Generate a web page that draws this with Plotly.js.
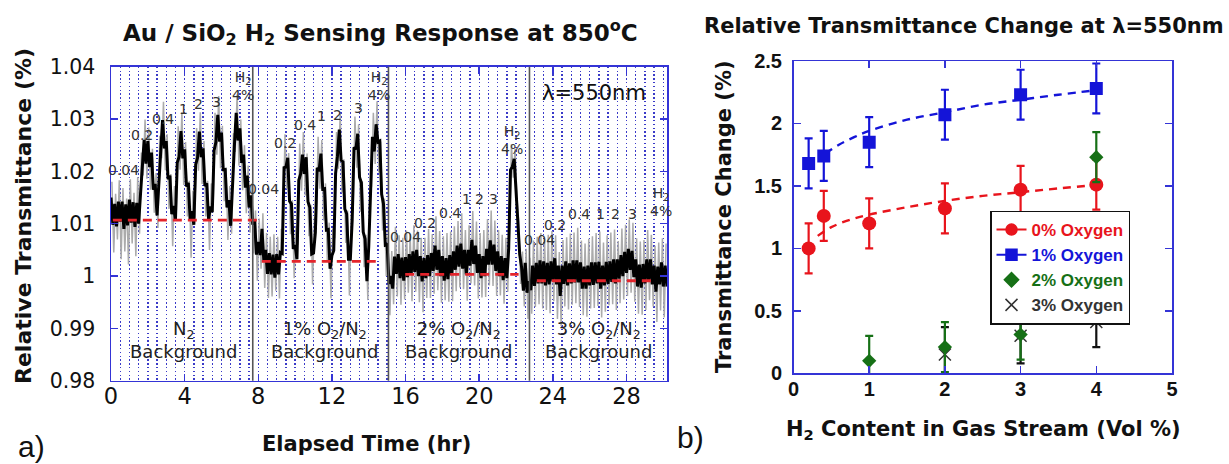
<!DOCTYPE html>
<html><head><meta charset="utf-8">
<script src="https://cdn.plot.ly/plotly-3.0.1.min.js"></script>
<style>html,body{margin:0;padding:0;background:#fff}#chart{width:1229px;height:464px}</style>
</head><body><div id="chart"></div>
<script>
// ---------- panel a) : time series (sampled every 0.1 hr) ----------
const sampleStep = 0.1;
const smoothedSignal = [
1.0150,1.0098,1.0138,1.0095,1.0142,1.0104,1.0142,1.0090,1.0137,1.0097,
1.0146,1.0102,1.0141,1.0094,1.0140,1.0100,1.0155,1.0205,1.0260,1.0215,
1.0258,1.0208,1.0236,1.0165,1.0176,1.0116,1.0183,1.0233,1.0298,1.0244,
1.0258,1.0185,1.0192,1.0118,1.0134,1.0106,1.0217,1.0228,1.0277,1.0225,
1.0242,1.0171,1.0178,1.0106,1.0124,1.0098,1.0213,1.0226,1.0276,1.0227,
1.0244,1.0172,1.0177,1.0108,1.0133,1.0122,1.0240,1.0256,1.0308,1.0257,
1.0274,1.0201,1.0206,1.0131,1.0145,1.0096,1.0180,1.0247,1.0312,1.0259,
1.0282,1.0216,1.0232,1.0169,1.0192,1.0131,1.0154,
1.0098,1.0107,1.0041,1.0065,1.0040,1.0090,1.0029,1.0050,1.0004,1.0044,
1.0003,1.0041,0.9997,1.0042,1.0003,1.0045,1.0043,1.0207,1.0208,1.0226,
1.0143,1.0138,1.0052,1.0059,1.0032,1.0183,1.0195,1.0232,1.0195,1.0227,
1.0142,1.0131,1.0042,1.0044,1.0083,1.0207,1.0200,1.0234,1.0166,1.0167,
1.0088,1.0089,1.0014,1.0039,1.0049,1.0196,1.0229,1.0280,1.0221,1.0218,
1.0128,1.0119,1.0032,1.0032,1.0106,1.0246,1.0242,1.0272,1.0189,1.0178,
1.0084,1.0071,0.9990,1.0056,1.0164,1.0266,1.0238,1.0290,1.0256,1.0258,
1.0156,1.0138,1.0059,1.0060,
0.9985,1.0000,0.9976,1.0037,1.0004,1.0042,0.9996,1.0035,0.9991,1.0036,
0.9998,1.0042,1.0002,1.0047,1.0008,1.0050,1.0000,1.0038,0.9990,1.0034,
0.9996,1.0040,1.0000,1.0044,1.0010,1.0058,1.0012,1.0050,1.0000,1.0038,
0.9991,1.0034,0.9994,1.0040,1.0002,1.0047,1.0012,1.0058,1.0018,1.0062,
1.0014,1.0050,1.0003,1.0050,1.0020,1.0069,1.0023,1.0058,1.0006,1.0042,
0.9996,1.0038,1.0000,1.0052,1.0022,1.0068,1.0022,1.0060,1.0010,1.0047,
1.0000,1.0038,0.9992,1.0034,0.9996,1.0052,1.0203,1.0209,1.0224,1.0168,
1.0112,1.0041,1.0017,0.9972,1.0025,0.9968,0.9990,
0.9973,1.0020,0.9981,1.0025,0.9986,1.0030,0.9986,1.0028,0.9982,1.0025,
0.9984,1.0028,0.9990,1.0034,0.9984,1.0020,0.9962,1.0020,0.9985,1.0028,
0.9982,1.0024,0.9986,1.0030,0.9988,1.0030,0.9988,1.0026,0.9976,1.0018,
0.9976,1.0020,0.9982,1.0026,0.9983,1.0026,0.9986,1.0027,0.9976,1.0020,
0.9982,1.0027,0.9985,1.0028,0.9989,1.0032,0.9986,1.0032,0.9995,1.0040,
1.0000,1.0046,1.0006,1.0052,1.0012,1.0048,0.9998,1.0032,0.9980,1.0022,
0.9978,1.0023,0.9986,1.0032,0.9992,1.0032,0.9984,1.0020,0.9970,1.0018,
0.9984,1.0026,0.9980,1.0020,0.9980
];
const rawSignal = [
1.0180,1.0045,1.0157,1.0070,1.0183,1.0032,1.0168,1.0047,1.0148,1.0022,
1.0185,1.0062,1.0159,1.0038,1.0189,1.0081,1.0236,1.0192,1.0299,1.0186,
1.0284,1.0165,1.0243,1.0121,1.0197,1.0092,1.0268,1.0225,1.0333,1.0202,
1.0271,1.0128,1.0195,1.0057,1.0172,1.0126,1.0286,1.0203,1.0313,1.0174,
1.0256,1.0114,1.0182,1.0035,1.0163,1.0111,1.0283,1.0201,1.0313,1.0176,
1.0258,1.0114,1.0182,1.0050,1.0177,1.0135,1.0312,1.0232,1.0344,1.0206,
1.0287,1.0143,1.0208,1.0069,1.0172,1.0081,1.0273,1.0237,1.0347,1.0211,
1.0299,1.0164,1.0250,1.0120,1.0211,1.0083,1.0177,
1.0043,1.0125,0.9991,1.0110,1.0014,1.0120,0.9977,1.0082,0.9958,1.0075,
0.9961,1.0080,0.9972,1.0075,0.9957,1.0090,1.0086,1.0271,1.0167,1.0235,
1.0080,1.0145,0.9996,1.0096,1.0060,1.0253,1.0163,1.0275,1.0154,1.0234,
1.0076,1.0136,0.9984,1.0112,1.0095,1.0266,1.0167,1.0260,1.0106,1.0177,
1.0028,1.0102,0.9957,1.0091,1.0072,1.0275,1.0205,1.0311,1.0159,1.0223,
1.0063,1.0125,0.9963,1.0116,1.0123,1.0305,1.0207,1.0290,1.0123,1.0181,
1.0017,1.0079,0.9954,1.0158,1.0171,1.0312,1.0214,1.0334,1.0198,1.0257,
1.0087,1.0148,1.0000,1.0075,
0.9925,1.0048,0.9946,1.0094,0.9961,1.0078,0.9945,1.0073,0.9955,1.0087,
0.9968,1.0080,0.9952,1.0097,0.9970,1.0087,0.9950,1.0073,0.9931,1.0073,
0.9958,1.0090,0.9958,1.0080,0.9966,1.0114,0.9973,1.0086,0.9949,1.0076,
0.9954,1.0082,0.9951,1.0085,0.9952,1.0095,0.9971,1.0105,0.9978,1.0120,
0.9975,1.0088,0.9953,1.0097,0.9986,1.0124,0.9982,1.0104,0.9957,1.0082,
0.9959,1.0088,0.9960,1.0109,0.9982,1.0125,0.9981,1.0106,0.9962,1.0088,
0.9963,1.0079,0.9947,1.0073,0.9970,1.0085,1.0252,1.0188,1.0243,1.0148,
1.0105,0.9985,1.0047,0.9942,1.0052,0.9918,1.0035,
0.9928,1.0068,0.9941,1.0075,0.9946,1.0082,0.9938,1.0071,0.9935,1.0079,
0.9929,1.0086,0.9952,1.0078,0.9918,1.0046,0.9904,1.0069,0.9942,1.0074,
0.9936,1.0081,0.9945,1.0083,0.9948,1.0092,0.9941,1.0068,0.9925,1.0062,
0.9922,1.0071,0.9938,1.0076,0.9939,1.0082,0.9943,1.0085,0.9921,1.0064,
0.9932,1.0078,0.9944,1.0083,0.9946,1.0089,0.9935,1.0067,0.9948,1.0091,
0.9955,1.0098,0.9962,1.0108,0.9968,1.0102,0.9951,1.0072,0.9928,1.0066,
0.9926,1.0069,0.9935,1.0088,0.9954,1.0079,0.9942,1.0058,0.9912,1.0064,
0.9934,1.0072,0.9921,1.0062
];
const switchTimes = [7.7, 15.07, 22.73];
const baseStart = [0.1, 8.19, 15.98, 23.13];
const baseEnd   = [8.1, 14.53, 22.14, 29.47];
const baseLevel = [1.0107, 1.0028, 1.0003, 0.9991];

const pulseText = ['0.04','0.2','0.4','1','2','3','H<sub>2</sub><br>4%',
                   '0.04','0.2','0.4','1','2','3','H<sub>2</sub><br>4%',
                   '0.04','0.2','0.4','1','2','3','H<sub>2</sub><br>4%',
                   '0.04','0.2','0.4','1','2','3','H<sub>2</sub><br>4%'];
const pulseT = [0.67,1.7,2.84,3.93,4.75,5.71,7.19,
                8.28,9.46,10.54,11.45,12.3,13.44,14.53,
                16.01,17.03,18.43,19.33,20.02,20.78,21.77,
                23.3,24.1,25.4,26.58,27.4,28.33,29.89];
const pulseV = [1.0202,1.0269,1.0301,1.0320,1.0329,1.0332,1.0363,
                1.0167,1.0254,1.0289,1.0306,1.0308,1.0321,1.0364,
                1.0075,1.0101,1.0121,1.0148,1.0148,1.0148,1.0260,
                1.0068,1.0098,1.0118,1.0118,1.0118,1.0118,1.0141];
const bgText = ['N<sub>2</sub><br>Background','1% O<sub>2</sub>/N<sub>2</sub><br>Background',
                '2% O<sub>2</sub>/N<sub>2</sub><br>Background','3% O<sub>2</sub>/N<sub>2</sub><br>Background'];
const bgT = [3.93, 11.58, 18.87, 26.48];
const bgV = 0.9877;
const yTickVals = [0.98,0.99,1,1.01,1.02,1.03,1.04];
const yTickText = ['0.98','0.99','1','1.01','1.02','1.03','1.04'];
const xTickVals = [0,4,8,12,16,20,24,28];

// ---------- panel b) : transmittance change ----------
const h2Content = [0.2, 0.4, 1, 2, 3, 4];
const ox0 = [1.00, 1.26, 1.20, 1.32, 1.47, 1.51];
const ox0Err = [0.20, 0.20, 0.20, 0.20, 0.19, 0.20];
const ox1 = [1.68, 1.74, 1.85, 2.07, 2.23, 2.28];
const ox1Err = [0.20, 0.20, 0.20, 0.20, 0.20, 0.20];
const ox2X = [1, 2, 3, 4];
const ox2 = [0.10, 0.21, 0.31, 1.73];
const ox2Err = [0.20, 0.20, 0.20, 0.20];
const ox3X = [2, 3, 4];
const ox3 = [0.15, 0.30, 0.41];
const ox3Err = [0.22, 0.22, 0.20];
const fit0X = [0.32,0.5,0.75,1,1.5,2,2.5,3,3.5,4.05];
const fit0Y = [1.10,1.17,1.23,1.27,1.33,1.38,1.42,1.45,1.48,1.51];
const fit1X = [0.42,0.6,0.8,1,1.5,2,2.5,3,3.5,4.05];
const fit1Y = [1.76,1.83,1.89,1.94,2.03,2.09,2.15,2.19,2.23,2.27];
const seriesNames = ['0% Oxygen','1% Oxygen','2% Oxygen','3% Oxygen'];
const seriesColors = ['#e8141c','#1414d8','#167016','#333333'];

const BLUE = '#3434d6';
const DJ = 'DejaVu Sans';
const LS = 'Liberation Sans, Arial, sans-serif';

const traces = [];
traces.push({type:'scatter', mode:'lines', x0:0.05, dx:sampleStep, y:rawSignal,
  line:{color:'#ababab', width:1.5}, xaxis:'x', yaxis:'y', showlegend:false, hoverinfo:'skip'});
traces.push({type:'scatter', mode:'lines', x0:0, dx:sampleStep, y:smoothedSignal,
  line:{color:'#000000', width:3.0}, xaxis:'x', yaxis:'y', showlegend:false, hoverinfo:'skip'});
baseLevel.forEach((v,i)=>{
  traces.push({type:'scatter', mode:'lines', x:[baseStart[i], baseEnd[i]], y:[v, v],
    line:{color:'#e3242b', width:2.8, dash:'9px,6px'}, xaxis:'x', yaxis:'y', showlegend:false, hoverinfo:'skip'});
});

// right panel
traces.push({type:'scatter', mode:'lines', x:fit0X, y:fit0Y, line:{color:'#e8141c', width:2.4, dash:'8px,6px', shape:'spline'},
  xaxis:'x2', yaxis:'y2', showlegend:false});
traces.push({type:'scatter', mode:'lines', x:fit1X, y:fit1Y, line:{color:'#1414d8', width:2.4, dash:'8px,6px', shape:'spline'},
  xaxis:'x2', yaxis:'y2', showlegend:false});
const errStyle = (arr,c)=>({type:'data', array:arr, visible:true, color:c, thickness:2.2, width:4});
traces.push({type:'scatter', mode:'markers', x:h2Content, y:ox0, error_y:errStyle(ox0Err, seriesColors[0]),
  marker:{symbol:'circle', size:14, color:seriesColors[0]}, xaxis:'x2', yaxis:'y2', showlegend:false});
traces.push({type:'scatter', mode:'markers', x:h2Content, y:ox1, error_y:errStyle(ox1Err, seriesColors[1]),
  marker:{symbol:'square', size:13, color:seriesColors[1]}, xaxis:'x2', yaxis:'y2', showlegend:false});
traces.push({type:'scatter', mode:'markers', x:ox3X, y:ox3, error_y:errStyle(ox3Err, '#111111'),
  marker:{symbol:'x-thin-open', size:12, color:seriesColors[3], line:{width:1.5, color:seriesColors[3]}}, xaxis:'x2', yaxis:'y2', showlegend:false});
traces.push({type:'scatter', mode:'markers', x:ox2X, y:ox2, error_y:errStyle(ox2Err, seriesColors[2]),
  marker:{symbol:'diamond', size:11, color:seriesColors[2]}, xaxis:'x2', yaxis:'y2', showlegend:false});
// legend entries
const legSym = ['circle','square','diamond','x-thin-open'];
const legMode = ['lines+markers','lines+markers','markers','markers'];
seriesNames.forEach((n,i)=>{
  traces.push({type:'scatter', mode:legMode[i], x:[null], y:[null],
    name:'<span style="color:'+seriesColors[i]+'">'+n+'</span>',
    line:{color:seriesColors[i], width:2}, marker:{symbol:legSym[i], size: i===3?12:11, color:seriesColors[i], line:{width:1.5,color:seriesColors[i]}},
    xaxis:'x2', yaxis:'y2', showlegend:true});
});

const annotations = [];
const ann = (o)=>annotations.push(Object.assign({showarrow:false, xanchor:'center', yanchor:'middle'}, o));
pulseText.forEach((t,i)=>ann({xref:'x', yref:'y', x:pulseT[i], y:pulseV[i], text:t,
  font:{family:DJ, size:14, color:'#333333'}}));
bgText.forEach((t,i)=>ann({xref:'x', yref:'y', x:bgT[i], y:bgV, text:t,
  font:{family:DJ, size:18, color:'#222222'}}));
ann({xref:'x', yref:'y', x:26.21, y:1.0349, text:'λ=550nm', font:{family:DJ, size:21, color:'#111'}});
// titles and panel letters
ann({xref:'paper', yref:'paper', x:380/1229, y:(464-32)/464, text:'Au / SiO<sub>2</sub> H<sub>2</sub> Sensing Response at 850<sup>o</sup>C',
  font:{family:DJ, size:23, weight:'bold', color:'#111'}});
ann({xref:'paper', yref:'paper', x:964/1229, y:(464-26)/464, text:'Relative Transmittance Change at λ=550nm',
  font:{family:DJ, size:21, weight:'bold', color:'#111'}});
ann({xref:'paper', yref:'paper', x:23/1229, y:(464-216)/464, text:'Relative Transmittance (%)', textangle:-90,
  font:{family:DJ, size:22, weight:'bold', color:'#111'}});
ann({xref:'paper', yref:'paper', x:366/1229, y:(464-444)/464, text:'Elapsed Time (hr)',
  font:{family:DJ, size:21, weight:'bold', color:'#111'}});
ann({xref:'paper', yref:'paper', x:724/1229, y:(464-217)/464, text:'Transmittance Change (%)', textangle:-90,
  font:{family:DJ, size:21, weight:'bold', color:'#111'}});
ann({xref:'paper', yref:'paper', x:983/1229, y:(464-430)/464, text:'H<sub>2</sub> Content in Gas Stream (Vol %)',
  font:{family:DJ, size:21, weight:'bold', color:'#111'}});
ann({xref:'paper', yref:'paper', x:31/1229, y:(464-446)/464, text:'a)', font:{family:LS, size:30, color:'#111'}});
ann({xref:'paper', yref:'paper', x:690/1229, y:(464-437)/464, text:'b)', font:{family:LS, size:30, color:'#111'}});

const shapes = switchTimes.map(t=>({type:'line', xref:'x', yref:'y domain', x0:t, x1:t, y0:0, y1:1,
  line:{color:'#555555', width:1.6}, layer:'above'}));

const dotGrid = {gridcolor:'#3a3ac8', griddash:'1.5px,2.3px', gridwidth:1.4};
const layout = {
  width:1229, height:464, margin:{l:0,r:0,t:0,b:0}, paper_bgcolor:'#fff', plot_bgcolor:'#fff',
  showlegend:true,
  xaxis:{domain:[111/1229, 667/1229], range:[0,30.2], tickvals:xTickVals, ticks:'inside', ticklen:7, tickwidth:1.5,
    tickcolor:BLUE, showline:true, linecolor:BLUE, linewidth:1.5, mirror:'ticks', zeroline:false,
    showgrid:true, gridcolor:dotGrid.gridcolor, griddash:dotGrid.griddash, gridwidth:dotGrid.gridwidth,
    minor:{dtick:0.5, tick0:0, showgrid:true, gridcolor:dotGrid.gridcolor, griddash:dotGrid.griddash, gridwidth:dotGrid.gridwidth, ticks:''},
    tickfont:{family:DJ, size:22.5, color:'#111'}, ticklabelstandoff:-5, anchor:'y', fixedrange:true},
  yaxis:{domain:[(464-380.7)/464, (464-66.7)/464], range:[0.98,1.04], tickvals:yTickVals, ticktext:yTickText,
    ticks:'inside', ticklen:7, tickwidth:1.5, tickcolor:BLUE, showline:true, linecolor:BLUE, linewidth:1.5, mirror:'ticks',
    zeroline:false, showgrid:false, tickfont:{family:DJ, size:20.5, color:'#111'}, ticklabelstandoff:10, anchor:'x', fixedrange:true},
  xaxis2:{domain:[793.5/1229, 1172/1229], range:[0,5], dtick:1, ticks:'inside', ticklen:7, tickwidth:1.5, tickcolor:BLUE,
    showline:true, linecolor:BLUE, linewidth:1.5, mirror:'ticks', zeroline:false, showgrid:false,
    tickfont:{family:LS, size:20, weight:'bold', color:'#111'}, ticklabelstandoff:-3, anchor:'y2', fixedrange:true},
  yaxis2:{domain:[(464-373.3)/464, (464-61)/464], range:[0,2.5], dtick:0.5, ticks:'inside', ticklen:7, tickwidth:1.5, tickcolor:BLUE,
    showline:true, linecolor:BLUE, linewidth:1.5, mirror:'ticks', zeroline:false, showgrid:false,
    tickfont:{family:LS, size:20, weight:'bold', color:'#111'}, ticklabelstandoff:6, anchor:'x2', fixedrange:true},
  legend:{x:990/1229, y:(464-210.5)/464, xanchor:'left', yanchor:'top', bgcolor:'#ffffff', bordercolor:'#111', borderwidth:1.5,
    font:{family:LS, size:17, weight:'bold', color:'#111'}, tracegroupgap:0, itemwidth:30},
  annotations, shapes
};
Plotly.newPlot('chart', traces, layout, {displayModeBar:false, staticPlot:true});
</script></body></html>
